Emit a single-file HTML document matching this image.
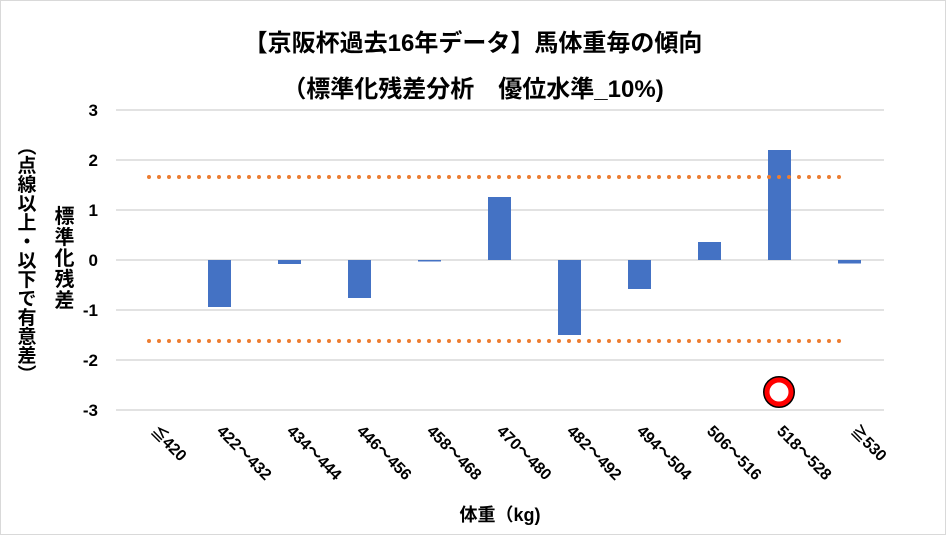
<!DOCTYPE html><html><head><meta charset="utf-8"><style>body{margin:0;background:#fff}svg{display:block;font-family:"Liberation Sans","Noto Sans CJK JP",sans-serif}</style></head><body>
<svg width="946" height="535" viewBox="0 0 946 535">
<rect x="0.5" y="0.5" width="945" height="534" fill="#fff" stroke="#d9d9d9"/>
<text x="473" y="51" text-anchor="middle" font-size="24" font-weight="bold">【京阪杯過去16年データ】馬体重毎の傾向</text>
<text x="473" y="97" text-anchor="middle" font-size="24" font-weight="bold">（標準化残差分析　優位水準_10%)</text>
<g stroke="#d9d9d9" stroke-width="1.5">
<line x1="116" x2="884" y1="110" y2="110"/><line x1="116" x2="884" y1="160" y2="160"/><line x1="116" x2="884" y1="210" y2="210"/><line x1="116" x2="884" y1="260" y2="260"/><line x1="116" x2="884" y1="310" y2="310"/><line x1="116" x2="884" y1="360" y2="360"/><line x1="116" x2="884" y1="410" y2="410"/></g>
<g font-size="17" font-weight="bold" text-anchor="end">
<text x="98" y="116">3</text><text x="98" y="166">2</text><text x="98" y="216">1</text><text x="98" y="266">0</text><text x="98" y="316">-1</text><text x="98" y="366">-2</text><text x="98" y="416">-3</text></g>
<g fill="#4472c4">
<rect x="208" y="260" width="23" height="47"/>
<rect x="278" y="260" width="23" height="4"/>
<rect x="348" y="260" width="23" height="38"/>
<rect x="418" y="260" width="23" height="1.5"/>
<rect x="488" y="197" width="23" height="63"/>
<rect x="558" y="260" width="23" height="75"/>
<rect x="628" y="260" width="23" height="29"/>
<rect x="698" y="242" width="23" height="18"/>
<rect x="768" y="150" width="23" height="110"/>
<rect x="838" y="260" width="23" height="3.5"/></g>
<g stroke="#ed7d31" stroke-width="4" stroke-linecap="round" stroke-dasharray="0 10">
<line x1="149" x2="845" y1="177" y2="177"/><line x1="149" x2="845" y1="341" y2="341"/></g>
<circle cx="779" cy="392" r="12" fill="none" stroke="#000" stroke-width="8"/>
<circle cx="779" cy="392" r="12" fill="#fff" stroke="#ff0000" stroke-width="5"/>
<g font-size="16" font-weight="bold">
<text transform="translate(150,432) rotate(45)">≦420</text>
<text transform="translate(216,432) rotate(45)">422～432</text>
<text transform="translate(286,432) rotate(45)">434～444</text>
<text transform="translate(356,432) rotate(45)">446～456</text>
<text transform="translate(426,432) rotate(45)">458～468</text>
<text transform="translate(496,432) rotate(45)">470～480</text>
<text transform="translate(566,432) rotate(45)">482～492</text>
<text transform="translate(636,432) rotate(45)">494～504</text>
<text transform="translate(706,432) rotate(45)">506～516</text>
<text transform="translate(776,432) rotate(45)">518～528</text>
<text transform="translate(850,432) rotate(45)">≧530</text></g>
<text x="500" y="521" text-anchor="middle" font-size="18" font-weight="bold">体重（kg)</text>
<text x="62" y="258" text-anchor="middle" font-size="20" font-weight="bold" letter-spacing="1" style="writing-mode:vertical-rl">標準化残差</text>
<text x="25" y="260" text-anchor="middle" font-size="19" font-weight="bold" style="writing-mode:vertical-rl">︵点線以上・以下で有意差︶</text>
</svg></body></html>
